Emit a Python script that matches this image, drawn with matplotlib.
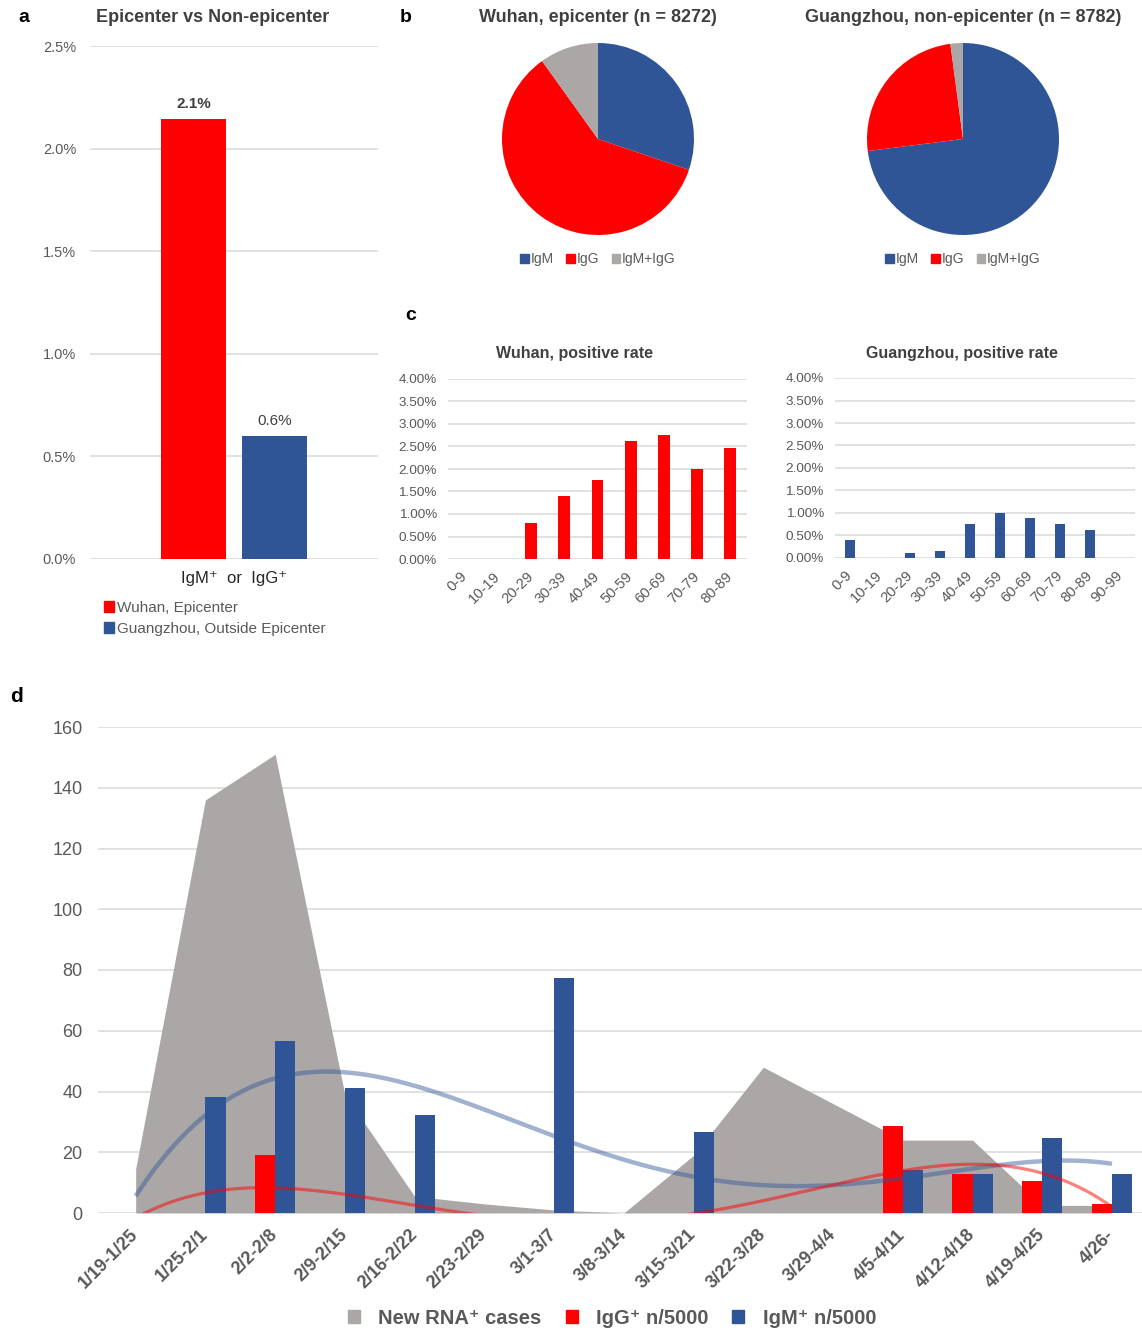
import matplotlib
matplotlib.use('Agg')
import matplotlib.pyplot as plt
from matplotlib.patches import Patch
import numpy as np

plt.rcParams['font.family'] = ['Liberation Sans', 'DejaVu Sans']

RED = '#FF0000'
BLUE = '#2F5597'
GRAY = '#ABA7A7'
GRID = '#D9D9D9'
TXT = '#595959'
TITLE = '#404040'

W, H = 1142, 1332

# panel a: overall positive rate (%)
a_groups = ['Wuhan, Epicenter', 'Guangzhou, Outside Epicenter']
a_rates = [2.145, 0.598]
a_labels = ['2.1%', '0.6%']

# panel b: antibody type shares (%)
pie_parts = ['IgM', 'IgG', 'IgM+IgG']
wuhan_pie = [30.2, 59.9, 9.9]
gz_pie = [73.0, 24.9, 2.1]

# panel c: positive rate by age (%)
wuhan_ages = ['0-9', '10-19', '20-29', '30-39', '40-49', '50-59', '60-69', '70-79', '80-89']
wuhan_rate = [0, 0, 0.79, 1.40, 1.75, 2.63, 2.75, 2.00, 2.46]
gz_ages = ['0-9', '10-19', '20-29', '30-39', '40-49', '50-59', '60-69', '70-79', '80-89', '90-99']
gz_rate = [0.39, 0, 0.10, 0.16, 0.76, 0.99, 0.88, 0.75, 0.62, 0]

# panel d: weekly counts
weeks = ['1/19-1/25', '1/25-2/1', '2/2-2/8', '2/9-2/15', '2/16-2/22', '2/23-2/29', '3/1-3/7',
         '3/8-3/14', '3/15-3/21', '3/22-3/28', '3/29-4/4', '4/5-4/11', '4/12-4/18', '4/19-4/25', '4/26-']
new_rna = [14.5, 136, 151, 39, 5.5, 3, 1, 0, 19, 48, 36, 24, 24, 2.5, 2.5]
igg_n = [0, 0, 19.1, 0, 0, 0, 0, 0, 0, 0, 0, 28.7, 12.8, 10.4, 3]
igm_n = [0, 38.3, 56.6, 41, 32.2, 0, 77.5, 0, 26.8, 0, 0, 14.2, 12.8, 24.7, 12.8]
trend_order = 4


def px_rect(x0, y0, x1, y1):
    # pixel box (top-left origin) -> figure fraction rect
    return [x0 / W, 1 - y1 / H, (x1 - x0) / W, (y1 - y0) / H]


def clean(ax):
    for s in ax.spines.values():
        s.set_visible(False)
    ax.yaxis.grid(True, color=GRID, lw=1.1)
    ax.set_axisbelow(True)
    ax.tick_params(length=0)


fig = plt.figure(figsize=(W / 100, H / 100), dpi=100)

# ---------------- a
ax = fig.add_axes(px_rect(90, 46, 378, 559))
xa = np.array([-0.14, 0.14])
ax.bar(xa, a_rates, width=0.225, color=[RED, BLUE])
ax.set_xlim(-0.5, 0.5)
ax.set_ylim(0, 2.5)
ax.set_yticks(np.arange(0, 2.51, 0.5))
ax.set_yticklabels([f'{v:.1f}%' for v in np.arange(0, 2.51, 0.5)])
clean(ax)
ax.tick_params(axis='y', labelsize=10.5, labelcolor=TXT, pad=10)
ax.set_xticks([0])
ax.set_xticklabels(['IgM\u207a  or  IgG\u207a'], fontsize=12, color='#262626')
ax.tick_params(axis='x', pad=9)
ax.text(xa[0], a_rates[0] + 0.04, a_labels[0], ha='center', va='bottom',
        fontsize=11, fontweight='bold', color=TITLE)
ax.text(xa[1], a_rates[1] + 0.04, a_labels[1], ha='center', va='bottom',
        fontsize=11, color=TITLE)
fig.text(18 / W, 1 - 18 / H, 'a', fontsize=14, fontweight='bold', va='center')
fig.text(213 / W, 1 - 18 / H, 'Epicenter vs Non-epicenter', fontsize=13, fontweight='bold',
         color=TITLE, ha='center', va='center')
fig.legend(handles=[Patch(color=RED, label=a_groups[0]), Patch(color=BLUE, label=a_groups[1])],
           loc='upper left', bbox_to_anchor=(96 / W, 1 - 593 / H), frameon=False, fontsize=11,
           handlelength=0.7, handleheight=0.7, handletextpad=0.2, labelspacing=0.45,
           labelcolor=TXT, borderpad=0)

# ---------------- b
fig.text(400 / W, 1 - 18 / H, 'b', fontsize=14, fontweight='bold', va='center')
pies = [(598, 139, wuhan_pie, 'Wuhan, epicenter (n = 8272)'),
        (963, 139, gz_pie, 'Guangzhou, non-epicenter (n = 8782)')]
for cx, cy, vals, title in pies:
    ax = fig.add_axes(px_rect(cx - 96, cy - 96, cx + 96, cy + 96))
    ax.pie(vals, colors=[BLUE, RED, GRAY], startangle=90, counterclock=False,
           wedgeprops=dict(linewidth=0))
    ax.set_xlim(-1, 1)
    ax.set_ylim(-1, 1)
    ax.set_aspect('equal')
    fig.text(cx / W, 1 - 18 / H, title, fontsize=13, fontweight='bold', color=TITLE,
             ha='center', va='center')
    fig.legend(handles=[Patch(color=c, label=l) for c, l in zip([BLUE, RED, GRAY], pie_parts)],
               loc='center', bbox_to_anchor=(cx / W, 1 - 259 / H), ncol=3, frameon=False,
               fontsize=10, handlelength=0.6, handleheight=0.6, handletextpad=0.15,
               columnspacing=0.9, labelcolor=TXT, borderpad=0)

# ---------------- c
fig.text(405 / W, 1 - 316 / H, 'c', fontsize=14, fontweight='bold', va='center')
cpanels = [((448, 379, 747, 559), wuhan_ages, wuhan_rate, RED, 'Wuhan, positive rate', 575),
           ((835, 378, 1135, 558), gz_ages, gz_rate, BLUE, 'Guangzhou, positive rate', 962)]
for box, ages, rate, col, title, tx in cpanels:
    ax = fig.add_axes(px_rect(*box))
    xc = np.arange(len(ages))
    ax.bar(xc, rate, width=0.36, color=col)
    ax.set_xlim(-0.5, len(ages) - 0.5)
    ax.set_ylim(0, 4)
    yt = np.arange(0, 4.01, 0.5)
    ax.set_yticks(yt)
    ax.set_yticklabels([f'{v:.2f}%' for v in yt])
    clean(ax)
    ax.tick_params(axis='y', labelsize=9.7, labelcolor=TXT, pad=8)
    ax.set_xticks(xc)
    ax.set_xticklabels(ages, rotation=45, ha='right', va='center', rotation_mode='anchor',
                       fontsize=10.6, color=TXT)
    ax.tick_params(axis='x', pad=11)
    fig.text(tx / W, 1 - 354 / H, title, fontsize=11.5, fontweight='bold', color=TITLE,
             ha='center', va='center')

# ---------------- d
fig.text(10 / W, 1 - 697 / H, 'd', fontsize=15, fontweight='bold', va='center')
ax = fig.add_axes(px_rect(98, 727, 1142, 1213))
xd = np.arange(len(weeks))
ax.fill_between(xd, new_rna, 0, color=GRAY, lw=0, zorder=1)
bw = 0.29
ax.bar(xd - bw / 2, igg_n, width=bw, color=RED, zorder=2)
ax.bar(xd + bw / 2, igm_n, width=bw, color=BLUE, zorder=2)
# polynomial trendlines, as in the spreadsheet chart
xs = np.linspace(0, len(weeks) - 1, 300)
ax.plot(xs, np.polyval(np.polyfit(xd, igm_n, trend_order), xs), color=BLUE, alpha=0.45, lw=3.2,
        zorder=3, solid_capstyle='butt')
ax.plot(xs, np.polyval(np.polyfit(xd, igg_n, trend_order), xs), color=RED, alpha=0.5, lw=2.3,
        zorder=3, solid_capstyle='butt')
ax.set_xlim(-0.54, 14.43)
ax.set_ylim(0, 160)
ax.set_yticks(np.arange(0, 161, 20))
clean(ax)
ax.tick_params(axis='y', labelsize=13, labelcolor=TXT, pad=11)
ax.set_xticks(xd)
ax.set_xticklabels(weeks, rotation=45, ha='right', va='center', rotation_mode='anchor',
                   fontsize=13, fontweight='bold', color=TXT)
ax.tick_params(axis='x', pad=14)
fig.legend(handles=[Patch(color=GRAY, label='New RNA\u207a cases'),
                    Patch(color=RED, label='IgG\u207a n/5000'),
                    Patch(color=BLUE, label='IgM\u207a n/5000')],
           loc='center', bbox_to_anchor=(612 / W, 1 - 1318 / H), ncol=3, frameon=False,
           prop={'size': 14.5, 'weight': 'bold'}, handlelength=0.6, handleheight=0.6,
           handletextpad=0.9, columnspacing=1.2, labelcolor=TXT, borderpad=0)

fig.savefig('out.png', dpi=100)
